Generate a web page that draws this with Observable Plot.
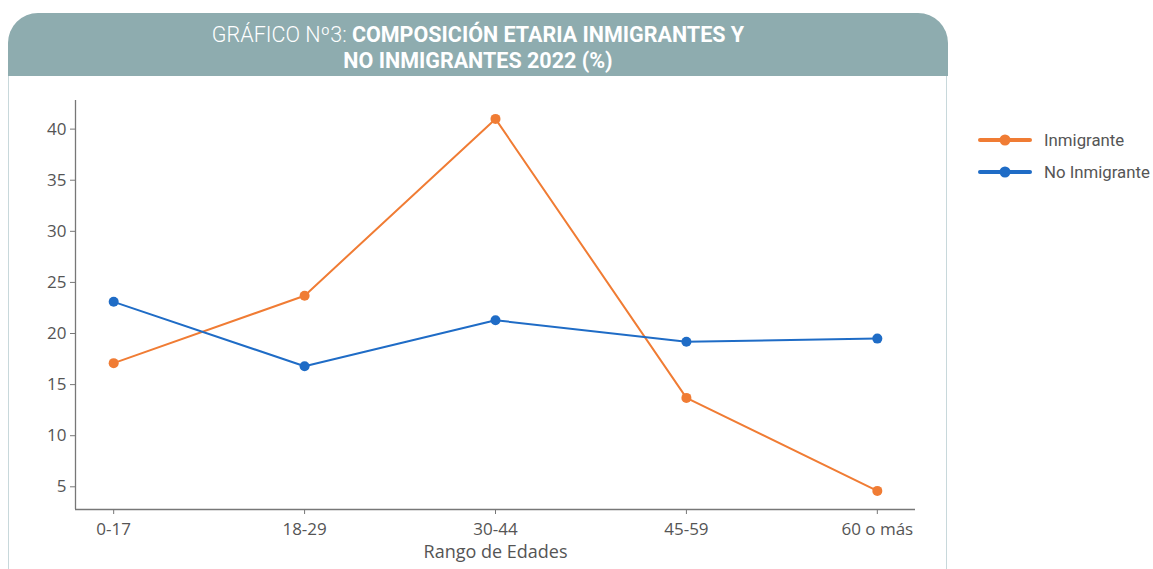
<!DOCTYPE html>
<html><head><meta charset="utf-8">
<script src="https://cdn.jsdelivr.net/npm/d3@7"></script>
<script src="https://cdn.jsdelivr.net/npm/@observablehq/plot@0.6"></script>
<style>
body{margin:0;width:1153px;height:569px;position:relative;background:#fff;overflow:hidden;}
#header{position:absolute;left:8px;top:13px;width:940px;height:63px;background:#8eacaf;border-radius:30px 30px 0 0;color:#fff;text-align:center;font-family:"Roboto","Open Sans",sans-serif;font-size:21.5px;line-height:26px;box-sizing:border-box;padding-top:9px;letter-spacing:0;}
#header .light{font-weight:300;}
#header b{font-weight:bold;}
#panel{position:absolute;left:8px;top:76px;width:939px;height:493px;border-left:1.5px solid #c8d8db;border-right:1.5px solid #c8d8db;box-sizing:border-box;}
#chart{position:absolute;left:0;top:76px;}
#legend{position:absolute;left:978px;top:124px;font-family:"Roboto",sans-serif;font-size:16.8px;color:#555;white-space:nowrap;width:175px;}
#legend .item{display:flex;align-items:center;height:32px;}
#legend svg{margin-right:12px;flex:none;}
</style></head>
<body>
<div id="header"><span class="light">GRÁFICO Nº3: </span><b>COMPOSICIÓN ETARIA INMIGRANTES Y<br>NO INMIGRANTES 2022 (%)</b></div>
<div id="panel"></div>
<div id="chart"></div>
<div id="legend"></div>
<script>
const ages = ["0-17", "18-29", "30-44", "45-59", "60 o más"];
const inmigrante = [17.1, 23.7, 41.0, 13.7, 4.6];
const noInmigrante = [23.1, 16.8, 21.3, 19.2, 19.5];
const series = ["Inmigrante", "No Inmigrante"];
const colors = ["#f07c34", "#1f6cc6"];
const yTicks = [5, 10, 15, 20, 25, 30, 35, 40];

const data = [
  ...ages.map((a, i) => ({i, age: a, value: inmigrante[i], serie: series[0]})),
  ...ages.map((a, i) => ({i, age: a, value: noInmigrante[i], serie: series[1]}))
];
const xDomain = [-0.2, ages.length - 1 + 0.2];
const yDomain = [2.78, 42.8];

const chart = Plot.plot({
  width: 948, height: 493,
  marginLeft: 75, marginRight: 33, marginTop: 24, marginBottom: 60,
  style: {fontFamily: "'Open Sans', sans-serif", fontSize: "17px", color: "#555", background: "transparent"},
  x: {type: "linear", domain: xDomain, label: null},
  y: {domain: yDomain, label: null},
  color: {domain: series, range: colors},
  marks: [
    Plot.ruleX([xDomain[0]], {stroke: "#777", strokeWidth: 1.3}),
    Plot.ruleY([yDomain[0]], {stroke: "#777", strokeWidth: 1.3}),
    Plot.axisY({ticks: yTicks, tickSize: 5, tickPadding: 4, stroke: "#777", fontSize: 17, label: null}),
    Plot.axisX({ticks: d3.range(ages.length), tickFormat: i => ages[i], tickSize: 5, tickPadding: 8, stroke: "#777", fontSize: 17, label: null}),
    Plot.axisX({ticks: [], tickSize: 0, label: "Rango de Edades", labelAnchor: "center", labelOffset: 48, labelArrow: "none", fontSize: 18}),
    Plot.line(data, {x: "i", y: "value", z: "serie", stroke: "serie", strokeWidth: 2}),
    Plot.dot(data, {x: "i", y: "value", fill: "serie", r: 5})
  ]
});
document.getElementById("chart").appendChild(chart);

const legend = document.getElementById("legend");
series.forEach((s, k) => {
  const item = document.createElement("div");
  item.className = "item";
  item.innerHTML = `<svg width="54" height="12"><line x1="2" x2="52" y1="6" y2="6" stroke="${colors[k]}" stroke-width="4" stroke-linecap="round"/><circle cx="27" cy="6" r="5.5" fill="${colors[k]}"/></svg><span>${s}</span>`;
  legend.appendChild(item);
});
</script>
</body></html>
